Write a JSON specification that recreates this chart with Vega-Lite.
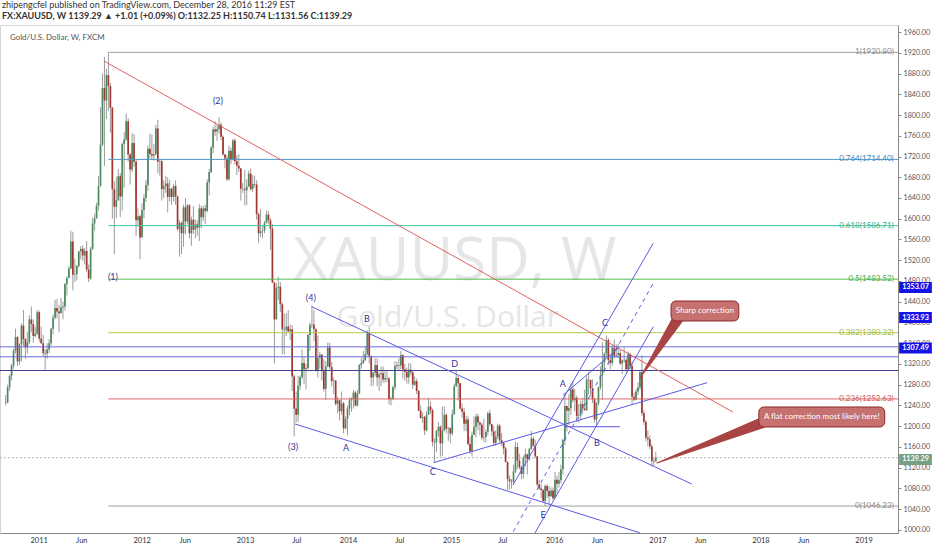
{
  "$schema": "https://vega.github.io/schema/vega-lite/v6.json",
  "width": 898,
  "height": 508,
  "autosize": "none",
  "padding": {"left": 0, "top": 25, "right": 34, "bottom": 17},
  "background": "white",
  "title": {
    "text": "zhipengcfel published on TradingView.com, December 28, 2016 11:29 EST",
    "subtitle": "FX:XAUUSD, W  1139.29 ▲ +1.01 (+0.09%)  O:1132.25  H:1150.74  L:1131.56  C:1139.29",
    "anchor": "start", "frame": "group", "offset": 4, "dx": 2,
    "fontSize": 9, "fontWeight": "normal", "color": "#333333",
    "subtitleFontSize": 9, "subtitleFontWeight": "bold", "subtitleColor": "#333333", "subtitlePadding": 2
  },
  "datasets": {
    "candles": [
      {"t":"2010-09-06","o":1247,"h":1260,"l":1240,"c":1246},
      {"t":"2010-09-13","o":1246,"h":1280,"l":1244,"c":1275},
      {"t":"2010-09-20","o":1275,"h":1300,"l":1268,"c":1297},
      {"t":"2010-09-27","o":1297,"h":1320,"l":1288,"c":1317},
      {"t":"2010-10-04","o":1317,"h":1349,"l":1311,"c":1346},
      {"t":"2010-10-11","o":1346,"h":1388,"l":1340,"c":1372},
      {"t":"2010-10-18","o":1372,"h":1374,"l":1316,"c":1325},
      {"t":"2010-10-25","o":1325,"h":1360,"l":1318,"c":1358},
      {"t":"2010-11-01","o":1358,"h":1398,"l":1325,"c":1394},
      {"t":"2010-11-08","o":1394,"h":1424,"l":1354,"c":1368},
      {"t":"2010-11-15","o":1368,"h":1370,"l":1330,"c":1352},
      {"t":"2010-11-22","o":1352,"h":1382,"l":1340,"c":1362},
      {"t":"2010-11-29","o":1362,"h":1414,"l":1358,"c":1406},
      {"t":"2010-12-06","o":1406,"h":1431,"l":1381,"c":1397},
      {"t":"2010-12-13","o":1397,"h":1406,"l":1361,"c":1374},
      {"t":"2010-12-20","o":1374,"h":1392,"l":1371,"c":1379},
      {"t":"2010-12-27","o":1379,"h":1424,"l":1376,"c":1420},
      {"t":"2011-01-03","o":1420,"h":1423,"l":1363,"c":1369},
      {"t":"2011-01-10","o":1369,"h":1392,"l":1359,"c":1360},
      {"t":"2011-01-17","o":1360,"h":1376,"l":1334,"c":1341},
      {"t":"2011-01-24","o":1341,"h":1349,"l":1309,"c":1340},
      {"t":"2011-01-31","o":1340,"h":1360,"l":1330,"c":1348},
      {"t":"2011-02-07","o":1348,"h":1368,"l":1341,"c":1360},
      {"t":"2011-02-14","o":1360,"h":1390,"l":1355,"c":1388},
      {"t":"2011-02-21","o":1388,"h":1415,"l":1377,"c":1409},
      {"t":"2011-02-28","o":1409,"h":1444,"l":1406,"c":1428},
      {"t":"2011-03-07","o":1428,"h":1445,"l":1408,"c":1421},
      {"t":"2011-03-14","o":1421,"h":1434,"l":1381,"c":1418},
      {"t":"2011-03-21","o":1418,"h":1447,"l":1418,"c":1429},
      {"t":"2011-03-28","o":1429,"h":1440,"l":1406,"c":1431},
      {"t":"2011-04-04","o":1431,"h":1476,"l":1423,"c":1474},
      {"t":"2011-04-11","o":1474,"h":1489,"l":1452,"c":1486},
      {"t":"2011-04-18","o":1486,"h":1509,"l":1486,"c":1504},
      {"t":"2011-04-25","o":1504,"h":1577,"l":1503,"c":1556},
      {"t":"2011-05-02","o":1556,"h":1575,"l":1462,"c":1492},
      {"t":"2011-05-09","o":1492,"h":1523,"l":1478,"c":1493},
      {"t":"2011-05-16","o":1493,"h":1511,"l":1481,"c":1509},
      {"t":"2011-05-23","o":1509,"h":1538,"l":1506,"c":1537},
      {"t":"2011-05-30","o":1537,"h":1547,"l":1522,"c":1542},
      {"t":"2011-06-06","o":1542,"h":1549,"l":1518,"c":1529},
      {"t":"2011-06-13","o":1529,"h":1544,"l":1512,"c":1538},
      {"t":"2011-06-20","o":1538,"h":1557,"l":1497,"c":1502},
      {"t":"2011-06-27","o":1502,"h":1512,"l":1478,"c":1485},
      {"t":"2011-07-04","o":1485,"h":1546,"l":1482,"c":1542},
      {"t":"2011-07-11","o":1542,"h":1602,"l":1540,"c":1591},
      {"t":"2011-07-18","o":1591,"h":1610,"l":1577,"c":1601},
      {"t":"2011-07-25","o":1601,"h":1631,"l":1600,"c":1625},
      {"t":"2011-08-01","o":1625,"h":1682,"l":1616,"c":1663},
      {"t":"2011-08-08","o":1663,"h":1815,"l":1662,"c":1743},
      {"t":"2011-08-15","o":1743,"h":1880,"l":1740,"c":1852},
      {"t":"2011-08-22","o":1852,"h":1912,"l":1702,"c":1828},
      {"t":"2011-08-29","o":1828,"h":1889,"l":1792,"c":1877},
      {"t":"2011-09-05","o":1877,"h":1921,"l":1808,"c":1856},
      {"t":"2011-09-12","o":1856,"h":1862,"l":1766,"c":1814},
      {"t":"2011-09-19","o":1814,"h":1816,"l":1600,"c":1657},
      {"t":"2011-09-26","o":1657,"h":1672,"l":1532,"c":1623},
      {"t":"2011-10-03","o":1623,"h":1681,"l":1601,"c":1636},
      {"t":"2011-10-10","o":1636,"h":1696,"l":1634,"c":1682},
      {"t":"2011-10-17","o":1682,"h":1688,"l":1603,"c":1643},
      {"t":"2011-10-24","o":1643,"h":1747,"l":1616,"c":1744},
      {"t":"2011-10-31","o":1744,"h":1767,"l":1660,"c":1753},
      {"t":"2011-11-07","o":1753,"h":1803,"l":1750,"c":1788},
      {"t":"2011-11-14","o":1788,"h":1794,"l":1710,"c":1724},
      {"t":"2011-11-21","o":1724,"h":1727,"l":1666,"c":1695},
      {"t":"2011-11-28","o":1695,"h":1765,"l":1690,"c":1746},
      {"t":"2011-12-05","o":1746,"h":1763,"l":1700,"c":1710},
      {"t":"2011-12-12","o":1710,"h":1715,"l":1567,"c":1597},
      {"t":"2011-12-19","o":1597,"h":1620,"l":1585,"c":1605},
      {"t":"2011-12-26","o":1605,"h":1608,"l":1522,"c":1564},
      {"t":"2012-01-02","o":1564,"h":1630,"l":1564,"c":1617},
      {"t":"2012-01-09","o":1617,"h":1648,"l":1601,"c":1640},
      {"t":"2012-01-16","o":1640,"h":1675,"l":1632,"c":1665},
      {"t":"2012-01-23","o":1665,"h":1741,"l":1654,"c":1735},
      {"t":"2012-01-30","o":1735,"h":1764,"l":1716,"c":1725},
      {"t":"2012-02-06","o":1725,"h":1763,"l":1715,"c":1722},
      {"t":"2012-02-13","o":1722,"h":1744,"l":1712,"c":1725},
      {"t":"2012-02-20","o":1725,"h":1781,"l":1722,"c":1774},
      {"t":"2012-02-27","o":1774,"h":1791,"l":1688,"c":1710},
      {"t":"2012-03-05","o":1710,"h":1714,"l":1683,"c":1711},
      {"t":"2012-03-12","o":1711,"h":1713,"l":1635,"c":1657},
      {"t":"2012-03-19","o":1657,"h":1674,"l":1640,"c":1663},
      {"t":"2012-03-26","o":1663,"h":1683,"l":1650,"c":1668},
      {"t":"2012-04-02","o":1668,"h":1680,"l":1612,"c":1642},
      {"t":"2012-04-09","o":1642,"h":1675,"l":1633,"c":1658},
      {"t":"2012-04-16","o":1658,"h":1659,"l":1627,"c":1642},
      {"t":"2012-04-23","o":1642,"h":1667,"l":1633,"c":1663},
      {"t":"2012-04-30","o":1663,"h":1674,"l":1627,"c":1643},
      {"t":"2012-05-07","o":1643,"h":1645,"l":1577,"c":1580},
      {"t":"2012-05-14","o":1580,"h":1597,"l":1527,"c":1592},
      {"t":"2012-05-21","o":1592,"h":1594,"l":1532,"c":1572},
      {"t":"2012-05-28","o":1572,"h":1627,"l":1546,"c":1622},
      {"t":"2012-06-04","o":1622,"h":1640,"l":1570,"c":1595},
      {"t":"2012-06-11","o":1595,"h":1628,"l":1590,"c":1626},
      {"t":"2012-06-18","o":1626,"h":1628,"l":1562,"c":1572},
      {"t":"2012-06-25","o":1572,"h":1604,"l":1548,"c":1598},
      {"t":"2012-07-02","o":1598,"h":1624,"l":1571,"c":1579},
      {"t":"2012-07-09","o":1579,"h":1599,"l":1562,"c":1589},
      {"t":"2012-07-16","o":1589,"h":1597,"l":1567,"c":1583},
      {"t":"2012-07-23","o":1583,"h":1628,"l":1557,"c":1620},
      {"t":"2012-07-30","o":1620,"h":1625,"l":1582,"c":1603},
      {"t":"2012-08-06","o":1603,"h":1625,"l":1595,"c":1620},
      {"t":"2012-08-13","o":1620,"h":1627,"l":1590,"c":1615},
      {"t":"2012-08-20","o":1615,"h":1676,"l":1612,"c":1670},
      {"t":"2012-08-27","o":1670,"h":1696,"l":1645,"c":1690},
      {"t":"2012-09-03","o":1690,"h":1740,"l":1688,"c":1737},
      {"t":"2012-09-10","o":1737,"h":1778,"l":1726,"c":1772},
      {"t":"2012-09-17","o":1772,"h":1788,"l":1760,"c":1768},
      {"t":"2012-09-24","o":1768,"h":1781,"l":1750,"c":1773},
      {"t":"2012-10-01","o":1773,"h":1796,"l":1764,"c":1781},
      {"t":"2012-10-08","o":1781,"h":1786,"l":1752,"c":1758},
      {"t":"2012-10-15","o":1758,"h":1761,"l":1722,"c":1724},
      {"t":"2012-10-22","o":1724,"h":1725,"l":1697,"c":1716},
      {"t":"2012-10-29","o":1716,"h":1723,"l":1673,"c":1676},
      {"t":"2012-11-05","o":1676,"h":1741,"l":1673,"c":1731},
      {"t":"2012-11-12","o":1731,"h":1737,"l":1705,"c":1714},
      {"t":"2012-11-19","o":1714,"h":1754,"l":1712,"c":1751},
      {"t":"2012-11-26","o":1751,"h":1755,"l":1705,"c":1711},
      {"t":"2012-12-03","o":1711,"h":1723,"l":1684,"c":1702},
      {"t":"2012-12-10","o":1702,"h":1724,"l":1690,"c":1697},
      {"t":"2012-12-17","o":1697,"h":1698,"l":1635,"c":1658},
      {"t":"2012-12-24","o":1658,"h":1669,"l":1650,"c":1657},
      {"t":"2012-12-31","o":1657,"h":1694,"l":1626,"c":1655},
      {"t":"2013-01-07","o":1655,"h":1676,"l":1626,"c":1662},
      {"t":"2013-01-14","o":1662,"h":1693,"l":1662,"c":1687},
      {"t":"2013-01-21","o":1687,"h":1697,"l":1654,"c":1657},
      {"t":"2013-01-28","o":1657,"h":1684,"l":1651,"c":1667},
      {"t":"2013-02-04","o":1667,"h":1683,"l":1660,"c":1666},
      {"t":"2013-02-11","o":1666,"h":1674,"l":1598,"c":1609},
      {"t":"2013-02-18","o":1609,"h":1612,"l":1554,"c":1572},
      {"t":"2013-02-25","o":1572,"h":1619,"l":1565,"c":1576},
      {"t":"2013-03-04","o":1576,"h":1588,"l":1562,"c":1577},
      {"t":"2013-03-11","o":1577,"h":1596,"l":1572,"c":1592},
      {"t":"2013-03-18","o":1592,"h":1616,"l":1591,"c":1608},
      {"t":"2013-03-25","o":1608,"h":1615,"l":1590,"c":1597},
      {"t":"2013-04-01","o":1597,"h":1601,"l":1540,"c":1581},
      {"t":"2013-04-08","o":1581,"h":1590,"l":1476,"c":1477},
      {"t":"2013-04-15","o":1477,"h":1478,"l":1321,"c":1406},
      {"t":"2013-04-22","o":1406,"h":1476,"l":1406,"c":1467},
      {"t":"2013-04-29","o":1467,"h":1488,"l":1443,"c":1469},
      {"t":"2013-05-06","o":1469,"h":1478,"l":1420,"c":1435},
      {"t":"2013-05-13","o":1435,"h":1439,"l":1339,"c":1387},
      {"t":"2013-05-20","o":1387,"h":1417,"l":1338,"c":1386},
      {"t":"2013-05-27","o":1386,"h":1418,"l":1374,"c":1392},
      {"t":"2013-06-03","o":1392,"h":1424,"l":1381,"c":1383},
      {"t":"2013-06-10","o":1383,"h":1396,"l":1366,"c":1387},
      {"t":"2013-06-17","o":1387,"h":1395,"l":1268,"c":1296},
      {"t":"2013-06-24","o":1296,"h":1300,"l":1180,"c":1234},
      {"t":"2013-07-01","o":1234,"h":1267,"l":1207,"c":1222},
      {"t":"2013-07-08","o":1222,"h":1297,"l":1208,"c":1278},
      {"t":"2013-07-15","o":1278,"h":1298,"l":1270,"c":1295},
      {"t":"2013-07-22","o":1295,"h":1348,"l":1291,"c":1322},
      {"t":"2013-07-29","o":1322,"h":1334,"l":1281,"c":1310},
      {"t":"2013-08-05","o":1310,"h":1320,"l":1271,"c":1312},
      {"t":"2013-08-12","o":1312,"h":1378,"l":1310,"c":1376},
      {"t":"2013-08-19","o":1376,"h":1400,"l":1345,"c":1395},
      {"t":"2013-08-26","o":1395,"h":1433,"l":1389,"c":1396},
      {"t":"2013-09-02","o":1396,"h":1424,"l":1364,"c":1387},
      {"t":"2013-09-09","o":1387,"h":1389,"l":1305,"c":1308},
      {"t":"2013-09-16","o":1308,"h":1375,"l":1294,"c":1332},
      {"t":"2013-09-23","o":1332,"h":1343,"l":1311,"c":1338},
      {"t":"2013-09-30","o":1338,"h":1339,"l":1288,"c":1308},
      {"t":"2013-10-07","o":1308,"h":1329,"l":1267,"c":1272},
      {"t":"2013-10-14","o":1272,"h":1325,"l":1251,"c":1315},
      {"t":"2013-10-21","o":1315,"h":1361,"l":1314,"c":1352},
      {"t":"2013-10-28","o":1352,"h":1361,"l":1310,"c":1314},
      {"t":"2013-11-04","o":1314,"h":1324,"l":1277,"c":1287},
      {"t":"2013-11-11","o":1287,"h":1294,"l":1262,"c":1288},
      {"t":"2013-11-18","o":1288,"h":1289,"l":1240,"c":1243},
      {"t":"2013-11-25","o":1243,"h":1257,"l":1225,"c":1250},
      {"t":"2013-12-02","o":1250,"h":1251,"l":1211,"c":1229},
      {"t":"2013-12-09","o":1229,"h":1267,"l":1222,"c":1244},
      {"t":"2013-12-16","o":1244,"h":1247,"l":1186,"c":1196},
      {"t":"2013-12-23","o":1196,"h":1219,"l":1194,"c":1214},
      {"t":"2013-12-30","o":1214,"h":1240,"l":1182,"c":1234},
      {"t":"2014-01-06","o":1234,"h":1255,"l":1221,"c":1250},
      {"t":"2014-01-13","o":1250,"h":1256,"l":1228,"c":1253},
      {"t":"2014-01-20","o":1253,"h":1270,"l":1234,"c":1265},
      {"t":"2014-01-27","o":1265,"h":1268,"l":1238,"c":1240},
      {"t":"2014-02-03","o":1240,"h":1270,"l":1238,"c":1263},
      {"t":"2014-02-10","o":1263,"h":1320,"l":1262,"c":1318},
      {"t":"2014-02-17","o":1318,"h":1332,"l":1311,"c":1322},
      {"t":"2014-02-24","o":1322,"h":1345,"l":1320,"c":1327},
      {"t":"2014-03-03","o":1327,"h":1355,"l":1326,"c":1339},
      {"t":"2014-03-10","o":1339,"h":1385,"l":1336,"c":1379},
      {"t":"2014-03-17","o":1379,"h":1392,"l":1321,"c":1335},
      {"t":"2014-03-24","o":1335,"h":1336,"l":1277,"c":1294},
      {"t":"2014-03-31","o":1294,"h":1305,"l":1278,"c":1303},
      {"t":"2014-04-07","o":1303,"h":1331,"l":1296,"c":1318},
      {"t":"2014-04-14","o":1318,"h":1331,"l":1277,"c":1294},
      {"t":"2014-04-21","o":1294,"h":1305,"l":1268,"c":1300},
      {"t":"2014-04-28","o":1300,"h":1315,"l":1277,"c":1302},
      {"t":"2014-05-05","o":1302,"h":1315,"l":1284,"c":1290},
      {"t":"2014-05-12","o":1290,"h":1306,"l":1284,"c":1293},
      {"t":"2014-05-19","o":1293,"h":1306,"l":1285,"c":1292},
      {"t":"2014-05-26","o":1292,"h":1295,"l":1242,"c":1252},
      {"t":"2014-06-02","o":1252,"h":1257,"l":1240,"c":1253},
      {"t":"2014-06-09","o":1253,"h":1278,"l":1250,"c":1275},
      {"t":"2014-06-16","o":1275,"h":1325,"l":1270,"c":1316},
      {"t":"2014-06-23","o":1316,"h":1325,"l":1310,"c":1318},
      {"t":"2014-06-30","o":1318,"h":1332,"l":1308,"c":1317},
      {"t":"2014-07-07","o":1317,"h":1345,"l":1310,"c":1337},
      {"t":"2014-07-14","o":1337,"h":1339,"l":1292,"c":1310},
      {"t":"2014-07-21","o":1310,"h":1320,"l":1288,"c":1305},
      {"t":"2014-07-28","o":1305,"h":1313,"l":1282,"c":1294},
      {"t":"2014-08-04","o":1294,"h":1322,"l":1282,"c":1309},
      {"t":"2014-08-11","o":1309,"h":1321,"l":1298,"c":1304},
      {"t":"2014-08-18","o":1304,"h":1306,"l":1272,"c":1280},
      {"t":"2014-08-25","o":1280,"h":1296,"l":1278,"c":1287},
      {"t":"2014-09-01","o":1287,"h":1292,"l":1262,"c":1268},
      {"t":"2014-09-08","o":1268,"h":1270,"l":1229,"c":1230},
      {"t":"2014-09-15","o":1230,"h":1240,"l":1214,"c":1216},
      {"t":"2014-09-22","o":1216,"h":1227,"l":1207,"c":1218},
      {"t":"2014-09-29","o":1218,"h":1220,"l":1183,"c":1192},
      {"t":"2014-10-06","o":1192,"h":1229,"l":1190,"c":1222},
      {"t":"2014-10-13","o":1222,"h":1255,"l":1222,"c":1238},
      {"t":"2014-10-20","o":1238,"h":1248,"l":1224,"c":1231},
      {"t":"2014-10-27","o":1231,"h":1234,"l":1161,"c":1170},
      {"t":"2014-11-03","o":1170,"h":1177,"l":1131,"c":1169},
      {"t":"2014-11-10","o":1169,"h":1193,"l":1150,"c":1191},
      {"t":"2014-11-17","o":1191,"h":1208,"l":1180,"c":1199},
      {"t":"2014-11-24","o":1199,"h":1202,"l":1142,"c":1167},
      {"t":"2014-12-01","o":1167,"h":1238,"l":1142,"c":1192},
      {"t":"2014-12-08","o":1192,"h":1238,"l":1190,"c":1222},
      {"t":"2014-12-15","o":1222,"h":1225,"l":1186,"c":1195},
      {"t":"2014-12-22","o":1195,"h":1199,"l":1172,"c":1196},
      {"t":"2014-12-29","o":1196,"h":1198,"l":1167,"c":1186},
      {"t":"2015-01-05","o":1186,"h":1232,"l":1182,"c":1223},
      {"t":"2015-01-12","o":1223,"h":1282,"l":1222,"c":1277},
      {"t":"2015-01-19","o":1277,"h":1307,"l":1276,"c":1293},
      {"t":"2015-01-26","o":1293,"h":1297,"l":1250,"c":1283},
      {"t":"2015-02-02","o":1283,"h":1284,"l":1232,"c":1234},
      {"t":"2015-02-09","o":1234,"h":1244,"l":1216,"c":1228},
      {"t":"2015-02-16","o":1228,"h":1236,"l":1191,"c":1205},
      {"t":"2015-02-23","o":1205,"h":1220,"l":1190,"c":1213},
      {"t":"2015-03-02","o":1213,"h":1219,"l":1163,"c":1166},
      {"t":"2015-03-09","o":1166,"h":1179,"l":1147,"c":1152},
      {"t":"2015-03-16","o":1152,"h":1190,"l":1142,"c":1183},
      {"t":"2015-03-23","o":1183,"h":1219,"l":1183,"c":1199},
      {"t":"2015-03-30","o":1199,"h":1224,"l":1178,"c":1219},
      {"t":"2015-04-06","o":1219,"h":1224,"l":1192,"c":1207},
      {"t":"2015-04-13","o":1207,"h":1209,"l":1183,"c":1203},
      {"t":"2015-04-20","o":1203,"h":1206,"l":1174,"c":1178},
      {"t":"2015-04-27","o":1178,"h":1215,"l":1170,"c":1179},
      {"t":"2015-05-04","o":1179,"h":1194,"l":1168,"c":1189},
      {"t":"2015-05-11","o":1189,"h":1228,"l":1182,"c":1225},
      {"t":"2015-05-18","o":1225,"h":1232,"l":1200,"c":1204},
      {"t":"2015-05-25","o":1204,"h":1205,"l":1181,"c":1190},
      {"t":"2015-06-01","o":1190,"h":1201,"l":1162,"c":1168},
      {"t":"2015-06-08","o":1168,"h":1192,"l":1162,"c":1180},
      {"t":"2015-06-15","o":1180,"h":1205,"l":1175,"c":1201},
      {"t":"2015-06-22","o":1201,"h":1204,"l":1168,"c":1173},
      {"t":"2015-06-29","o":1173,"h":1187,"l":1162,"c":1168},
      {"t":"2015-07-06","o":1168,"h":1170,"l":1146,"c":1157},
      {"t":"2015-07-13","o":1157,"h":1160,"l":1130,"c":1131},
      {"t":"2015-07-20","o":1131,"h":1132,"l":1077,"c":1098},
      {"t":"2015-07-27","o":1098,"h":1105,"l":1078,"c":1094},
      {"t":"2015-08-03","o":1094,"h":1098,"l":1080,"c":1093},
      {"t":"2015-08-10","o":1093,"h":1126,"l":1088,"c":1113},
      {"t":"2015-08-17","o":1113,"h":1170,"l":1110,"c":1160},
      {"t":"2015-08-24","o":1160,"h":1168,"l":1118,"c":1134},
      {"t":"2015-08-31","o":1134,"h":1147,"l":1117,"c":1121},
      {"t":"2015-09-07","o":1121,"h":1124,"l":1098,"c":1108},
      {"t":"2015-09-14","o":1108,"h":1143,"l":1099,"c":1139},
      {"t":"2015-09-21","o":1139,"h":1157,"l":1122,"c":1146},
      {"t":"2015-09-28","o":1146,"h":1147,"l":1107,"c":1137},
      {"t":"2015-10-05","o":1137,"h":1158,"l":1133,"c":1156},
      {"t":"2015-10-12","o":1156,"h":1191,"l":1155,"c":1176},
      {"t":"2015-10-19","o":1176,"h":1180,"l":1160,"c":1163},
      {"t":"2015-10-26","o":1163,"h":1174,"l":1138,"c":1142},
      {"t":"2015-11-02","o":1142,"h":1143,"l":1084,"c":1088},
      {"t":"2015-11-09","o":1088,"h":1097,"l":1077,"c":1080},
      {"t":"2015-11-16","o":1080,"h":1088,"l":1062,"c":1077},
      {"t":"2015-11-23","o":1077,"h":1079,"l":1052,"c":1056},
      {"t":"2015-11-30","o":1056,"h":1088,"l":1046,"c":1085},
      {"t":"2015-12-07","o":1085,"h":1088,"l":1062,"c":1075},
      {"t":"2015-12-14","o":1075,"h":1085,"l":1050,"c":1065},
      {"t":"2015-12-21","o":1065,"h":1082,"l":1064,"c":1076},
      {"t":"2015-12-28","o":1076,"h":1082,"l":1058,"c":1061},
      {"t":"2016-01-04","o":1061,"h":1112,"l":1061,"c":1097},
      {"t":"2016-01-11","o":1097,"h":1105,"l":1071,"c":1089},
      {"t":"2016-01-18","o":1089,"h":1112,"l":1082,"c":1096},
      {"t":"2016-01-25","o":1096,"h":1126,"l":1090,"c":1117},
      {"t":"2016-02-01","o":1117,"h":1175,"l":1107,"c":1174},
      {"t":"2016-02-08","o":1174,"h":1263,"l":1164,"c":1239},
      {"t":"2016-02-15","o":1239,"h":1240,"l":1190,"c":1230},
      {"t":"2016-02-22","o":1230,"h":1262,"l":1202,"c":1235},
      {"t":"2016-02-29","o":1235,"h":1281,"l":1222,"c":1271},
      {"t":"2016-03-07","o":1271,"h":1287,"l":1246,"c":1250},
      {"t":"2016-03-14","o":1250,"h":1272,"l":1229,"c":1255},
      {"t":"2016-03-21","o":1255,"h":1259,"l":1208,"c":1220},
      {"t":"2016-03-28","o":1220,"h":1243,"l":1207,"c":1221},
      {"t":"2016-04-04","o":1221,"h":1249,"l":1211,"c":1243},
      {"t":"2016-04-11","o":1243,"h":1255,"l":1224,"c":1234},
      {"t":"2016-04-18","o":1234,"h":1270,"l":1230,"c":1231},
      {"t":"2016-04-25","o":1231,"h":1296,"l":1230,"c":1290},
      {"t":"2016-05-02","o":1290,"h":1304,"l":1261,"c":1289},
      {"t":"2016-05-09","o":1289,"h":1290,"l":1257,"c":1273},
      {"t":"2016-05-16","o":1273,"h":1290,"l":1245,"c":1252},
      {"t":"2016-05-23","o":1252,"h":1255,"l":1208,"c":1213},
      {"t":"2016-05-30","o":1213,"h":1247,"l":1200,"c":1244},
      {"t":"2016-06-06","o":1244,"h":1277,"l":1240,"c":1275},
      {"t":"2016-06-13","o":1275,"h":1315,"l":1270,"c":1298},
      {"t":"2016-06-20","o":1298,"h":1362,"l":1251,"c":1323},
      {"t":"2016-06-27","o":1323,"h":1342,"l":1304,"c":1340},
      {"t":"2016-07-04","o":1340,"h":1375,"l":1334,"c":1366},
      {"t":"2016-07-11","o":1366,"h":1370,"l":1318,"c":1328},
      {"t":"2016-07-18","o":1328,"h":1338,"l":1310,"c":1322},
      {"t":"2016-07-25","o":1322,"h":1356,"l":1317,"c":1351},
      {"t":"2016-08-01","o":1351,"h":1367,"l":1331,"c":1336},
      {"t":"2016-08-08","o":1336,"h":1358,"l":1332,"c":1337},
      {"t":"2016-08-15","o":1337,"h":1358,"l":1332,"c":1341},
      {"t":"2016-08-22","o":1341,"h":1348,"l":1318,"c":1321},
      {"t":"2016-08-29","o":1321,"h":1329,"l":1301,"c":1327},
      {"t":"2016-09-05","o":1327,"h":1352,"l":1322,"c":1328},
      {"t":"2016-09-12","o":1328,"h":1331,"l":1305,"c":1310},
      {"t":"2016-09-19","o":1310,"h":1344,"l":1308,"c":1339},
      {"t":"2016-09-26","o":1339,"h":1342,"l":1310,"c":1316},
      {"t":"2016-10-03","o":1316,"h":1325,"l":1241,"c":1257},
      {"t":"2016-10-10","o":1257,"h":1265,"l":1248,"c":1251},
      {"t":"2016-10-17","o":1251,"h":1272,"l":1250,"c":1267},
      {"t":"2016-10-24","o":1267,"h":1285,"l":1260,"c":1275},
      {"t":"2016-10-31","o":1275,"h":1307,"l":1270,"c":1304},
      {"t":"2016-11-07","o":1304,"h":1337,"l":1220,"c":1225},
      {"t":"2016-11-14","o":1225,"h":1231,"l":1202,"c":1208},
      {"t":"2016-11-21","o":1208,"h":1212,"l":1171,"c":1178},
      {"t":"2016-11-28","o":1178,"h":1192,"l":1161,"c":1175},
      {"t":"2016-12-05","o":1175,"h":1182,"l":1156,"c":1161},
      {"t":"2016-12-12","o":1161,"h":1165,"l":1122,"c":1133},
      {"t":"2016-12-19","o":1133,"h":1140,"l":1124,"c":1132},
      {"t":"2016-12-26","o":1132.25,"h":1150.74,"l":1131.56,"c":1139.29}
    ],
    "fib": [
      {"id":"f1","t":"2011-09-05","t2":"2019-05-03","p":1920.80,"p2":1920.80,"tx":"2019-04-18","txt":"1(1920.80)"},
      {"id":"f764","t":"2011-09-05","t2":"2019-05-03","p":1714.40,"p2":1714.40,"tx":"2019-04-18","txt":"0.764(1714.40)"},
      {"id":"f618","t":"2011-09-05","t2":"2019-05-03","p":1586.71,"p2":1586.71,"tx":"2019-04-18","txt":"0.618(1586.71)"},
      {"id":"f5","t":"2011-09-05","t2":"2019-05-03","p":1483.52,"p2":1483.52,"tx":"2019-04-18","txt":"0.5(1483.52)"},
      {"id":"f382","t":"2011-09-05","t2":"2019-05-03","p":1380.32,"p2":1380.32,"tx":"2019-04-18","txt":"0.382(1380.32)"},
      {"id":"f236","t":"2011-09-05","t2":"2019-05-03","p":1252.63,"p2":1252.63,"tx":"2019-04-18","txt":"0.236(1252.63)"},
      {"id":"f0","t":"2011-09-05","t2":"2019-05-03","p":1046.23,"p2":1046.23,"tx":"2019-04-18","txt":"0(1046.23)"}
    ],
    "levels": [
      {"id":"r1","t":"2010-08-17","t2":"2019-05-03","p":1353.07,"p2":1353.07},
      {"id":"r2","t":"2010-08-17","t2":"2019-05-03","p":1333.93,"p2":1333.93},
      {"id":"r3","t":"2010-08-17","t2":"2019-05-03","p":1307.49,"p2":1307.49}
    ],
    "trend": [
      {"t":"2013-06-27","p":1204.3,"t2":"2016-10-31","p2":994.5},
      {"t":"2013-08-25","p":1430.5,"t2":"2017-05-02","p2":1088.7},
      {"t":"2014-10-30","p":1129.7,"t2":"2017-06-26","p2":1284.0},
      {"t":"2016-02-05","p":1199.1,"t2":"2016-08-21","p2":1199.1},
      {"t":"2016-02-02","p":1260.2,"t2":"2016-08-15","p2":1350.3},
      {"t":"2015-08-08","p":1086.7,"t2":"2016-12-17","p2":1552.7},
      {"t":"2015-10-25","p":994.2,"t2":"2016-12-17","p2":1391.9}
    ],
    "waves": [
      {"t":"2011-09-21","p":1487.7,"txt":"(1)"},
      {"t":"2012-09-27","p":1827,"txt":"(2)"},
      {"t":"2013-06-20","p":1160,"txt":"(3)"},
      {"t":"2013-08-22","p":1447.2,"txt":"(4)"},
      {"t":"2013-12-25","p":1158.1,"txt":"A"},
      {"t":"2014-03-09","p":1406.7,"txt":"B"},
      {"t":"2014-10-28","p":1111.8,"txt":"C"},
      {"t":"2015-01-14","p":1320,"txt":"D"},
      {"t":"2015-11-23","p":1028.9,"txt":"E"},
      {"t":"2016-02-01","p":1281.4,"txt":"A"},
      {"t":"2016-05-31","p":1167.7,"txt":"B"},
      {"t":"2016-06-29","p":1399,"txt":"C"}
    ],
    "wedges": [
      {"id":"s","t":"2016-10-31","p":1293,"end":"tip"},
      {"id":"s","t":"2017-03-14","p":1406.7,"end":"base"},
      {"id":"f","t":"2016-12-30","p":1129.2,"end":"tip"},
      {"id":"f","t":"2018-01-06","p":1206.3,"end":"base"}
    ],
    "boxes": [
      {"t":"2017-02-18","t2":"2017-10-16","p":1441.4,"p2":1402.9,"tx":"2017-06-18","pt":1422.2,"txt":"Sharp correction"},
      {"t":"2017-12-26","t2":"2019-03-17","p":1237.1,"p2":1198.6,"tx":"2018-08-06","pt":1217.8,"txt":"A flat correction most likely here!"}
    ],
    "tags": [
      {"id":"b","t":"2019-05-07","t2":"2019-08-31","p":1478.1,"p2":1456.9,"tx":"2019-07-04","pt":1467.5,"txt":"1353.07"},
      {"id":"b","t":"2019-05-07","t2":"2019-08-31","p":1420.2,"p2":1399.0,"tx":"2019-07-04","pt":1409.6,"txt":"1333.93"},
      {"id":"b","t":"2019-05-07","t2":"2019-08-31","p":1361.4,"p2":1340.2,"tx":"2019-07-04","pt":1350.8,"txt":"1307.49"},
      {"id":"g","t":"2019-05-07","t2":"2019-08-31","p":1146.5,"p2":1125.3,"tx":"2019-07-04","pt":1135.9,"txt":"1139.29"}
    ]
  },
  "encoding": {
    "x": {
      "field": "t", "type": "temporal",
      "scale": {"type": "utc", "domain": [{"year": 2010, "month": 8, "date": 17, "utc": true}, {"year": 2019, "month": 5, "date": 3, "utc": true}]},
      "axis": {
        "title": null, "grid": false, "ticks": false, "domainColor": "#888888",
        "labelFontSize": 7.5, "labelColor": "#333333", "labelPadding": 3, "labelOverlap": false, "labelFlush": false,
        "values": [
          {"year": 2011, "month": 1, "date": 1, "utc": true}, {"year": 2011, "month": 6, "date": 1, "utc": true},
          {"year": 2012, "month": 1, "date": 1, "utc": true}, {"year": 2012, "month": 6, "date": 1, "utc": true},
          {"year": 2013, "month": 1, "date": 1, "utc": true}, {"year": 2013, "month": 7, "date": 1, "utc": true},
          {"year": 2014, "month": 1, "date": 1, "utc": true}, {"year": 2014, "month": 7, "date": 1, "utc": true},
          {"year": 2015, "month": 1, "date": 1, "utc": true}, {"year": 2015, "month": 7, "date": 1, "utc": true},
          {"year": 2016, "month": 1, "date": 1, "utc": true}, {"year": 2016, "month": 6, "date": 1, "utc": true},
          {"year": 2017, "month": 1, "date": 1, "utc": true}, {"year": 2017, "month": 6, "date": 1, "utc": true},
          {"year": 2018, "month": 1, "date": 1, "utc": true}, {"year": 2018, "month": 6, "date": 1, "utc": true},
          {"year": 2019, "month": 1, "date": 1, "utc": true}
        ],
        "labelExpr": "utcFormat(datum.value, utcmonth(datum.value) == 0 ? '%Y' : '%b')"
      }
    },
    "y": {
      "field": "p", "type": "quantitative",
      "scale": {"domain": [994.2, 1973.5], "nice": false, "zero": false},
      "axis": {
        "orient": "right", "title": null, "grid": false, "format": ".2f",
        "values": [1000, 1040, 1080, 1120, 1160, 1200, 1240, 1280, 1320, 1360, 1400, 1440, 1480, 1520, 1560, 1600, 1640, 1680, 1720, 1760, 1800, 1840, 1880, 1920, 1960],
        "labelFontSize": 7.2, "labelColor": "#555555", "tickColor": "#888888", "tickSize": 3, "domainColor": "#888888", "labelPadding": 2
      }
    }
  },
  "layer": [
    {
      "data": {"values": [{"t": "2015-01-14", "p": 1516.6, "txt": "XAUUSD, W"}]},
      "mark": {"type": "text", "fontSize": 60, "font": "Open Sans", "color": "#e6e6e6", "align": "center", "baseline": "middle"},
      "encoding": {"text": {"field": "txt"}}
    },
    {
      "data": {"values": [{"t": "2014-12-20", "p": 1408.7, "txt": "Gold/U.S. Dollar"}]},
      "mark": {"type": "text", "fontSize": 30, "font": "Open Sans", "color": "#e6e6e6", "align": "center", "baseline": "middle"},
      "encoding": {"text": {"field": "txt"}}
    },
    {
      "data": {"values": [{"t": "2010-09-21", "p": 1948.4, "txt": "Gold/U.S. Dollar, W, FXCM"}]},
      "mark": {"type": "text", "fontSize": 8, "color": "#555555", "align": "left", "baseline": "middle"},
      "encoding": {"text": {"field": "txt"}}
    },
    {
      "data": {"values": [{"t": "2010-08-17", "t2": "2019-05-03", "p": 1139.29, "p2": 1139.29}]},
      "mark": {"type": "rule", "color": "#b5b5b5", "strokeWidth": 1, "strokeDash": [2, 2]},
      "encoding": {"x2": {"field": "t2"}, "y2": {"field": "p2"}}
    },
    {
      "data": {"name": "candles"},
      "mark": {"type": "rule", "color": "#9c9c9c", "strokeWidth": 1},
      "encoding": {
        "y": {"field": "l", "type": "quantitative", "scale": {"domain": [994.2, 1973.5], "nice": false, "zero": false}, "title": null},
        "y2": {"field": "h"}
      }
    },
    {
      "data": {"name": "candles"},
      "mark": {"type": "rule", "strokeWidth": 1.7, "strokeCap": "butt"},
      "encoding": {
        "y": {"field": "o", "type": "quantitative", "scale": {"domain": [994.2, 1973.5], "nice": false, "zero": false}, "title": null},
        "y2": {"field": "c"},
        "color": {"condition": {"test": "datum.c >= datum.o", "value": "#4b8a5f"}, "value": "#a3352e"}
      }
    },
    {
      "data": {"name": "fib"},
      "mark": {"type": "rule", "strokeWidth": 1},
      "encoding": {
        "x2": {"field": "t2"}, "y2": {"field": "p2"},
        "color": {"field": "id", "type": "nominal", "legend": null,
          "scale": {"domain": ["f1", "f764", "f618", "f5", "f382", "f236", "f0"], "range": ["#9e9e9e", "#4f97c9", "#45c29b", "#52bd52", "#b3c94a", "#e06666", "#9e9e9e"]}}
      }
    },
    {
      "data": {"name": "fib"},
      "mark": {"type": "text", "fontSize": 8, "align": "right", "baseline": "middle"},
      "encoding": {
        "x": {"field": "tx", "type": "temporal"},
        "text": {"field": "txt"},
        "color": {"field": "id", "type": "nominal", "legend": null,
          "scale": {"domain": ["f1", "f764", "f618", "f5", "f382", "f236", "f0"], "range": ["#8a8a8a", "#3f87b9", "#35b28b", "#42ad42", "#a3b93a", "#d05656", "#8a8a8a"]}}
      }
    },
    {
      "data": {"name": "levels"},
      "mark": {"type": "rule", "strokeWidth": 1},
      "encoding": {
        "x2": {"field": "t2"}, "y2": {"field": "p2"},
        "color": {"field": "id", "type": "nominal", "legend": null,
          "scale": {"domain": ["r1", "r2", "r3"], "range": ["#6a6ae0", "#6a6ae0", "#3e3e94"]}}
      }
    },
    {
      "data": {"values": [{"t": "2011-08-20", "p": 1904.1, "t2": "2017-09-25", "p2": 1227.5}]},
      "mark": {"type": "rule", "color": "#e35f5f", "strokeWidth": 1},
      "encoding": {"x2": {"field": "t2"}, "y2": {"field": "p2"}}
    },
    {
      "data": {"name": "trend"},
      "mark": {"type": "rule", "color": "#5a5ae6", "strokeWidth": 1, "clip": true},
      "encoding": {"x2": {"field": "t2"}, "y2": {"field": "p2"}}
    },
    {
      "data": {"values": [{"t": "2015-08-09", "p": 996.7, "t2": "2016-12-17", "p2": 1475.6}]},
      "mark": {"type": "rule", "color": "#5a5ae6", "strokeWidth": 1, "strokeDash": [4, 4], "clip": true},
      "encoding": {"x2": {"field": "t2"}, "y2": {"field": "p2"}}
    },
    {
      "data": {"name": "waves"},
      "mark": {"type": "text", "fontSize": 9, "color": "#33339c", "align": "center", "baseline": "middle"},
      "encoding": {"text": {"field": "txt"}}
    },
    {
      "data": {"name": "wedges"},
      "mark": {"type": "trail", "color": "#a94444"},
      "encoding": {
        "detail": {"field": "id"},
        "size": {"field": "end", "type": "ordinal", "legend": null, "scale": {"domain": ["tip", "base"], "range": [1, 11]}}
      }
    },
    {
      "data": {"name": "boxes"},
      "mark": {"type": "rect", "fill": "#c67070", "stroke": "#8e2a2a", "strokeWidth": 1, "cornerRadius": 5},
      "encoding": {"x2": {"field": "t2"}, "y2": {"field": "p2"}}
    },
    {
      "data": {"name": "boxes"},
      "mark": {"type": "text", "fontSize": 8, "color": "white", "align": "center", "baseline": "middle"},
      "encoding": {
        "x": {"field": "tx", "type": "temporal"},
        "y": {"field": "pt", "type": "quantitative", "scale": {"domain": [994.2, 1973.5], "nice": false, "zero": false}, "title": null},
        "text": {"field": "txt"}
      }
    },
    {
      "data": {"name": "tags"},
      "mark": {"type": "rect"},
      "encoding": {
        "x2": {"field": "t2"}, "y2": {"field": "p2"},
        "color": {"field": "id", "type": "nominal", "legend": null, "scale": {"domain": ["b", "g"], "range": ["#1414e6", "#74a083"]}}
      }
    },
    {
      "data": {"name": "tags"},
      "mark": {"type": "text", "fontSize": 7.2, "fontWeight": "bold", "color": "white", "align": "center", "baseline": "middle"},
      "encoding": {
        "x": {"field": "tx", "type": "temporal"},
        "y": {"field": "pt", "type": "quantitative", "scale": {"domain": [994.2, 1973.5], "nice": false, "zero": false}, "title": null},
        "text": {"field": "txt"}
      }
    }
  ],
  "resolve": {"scale": {"color": "independent", "size": "independent"}},
  "config": {
    "font": "Lato",
    "view": {"stroke": "#d4d4d4"}
  }
}
